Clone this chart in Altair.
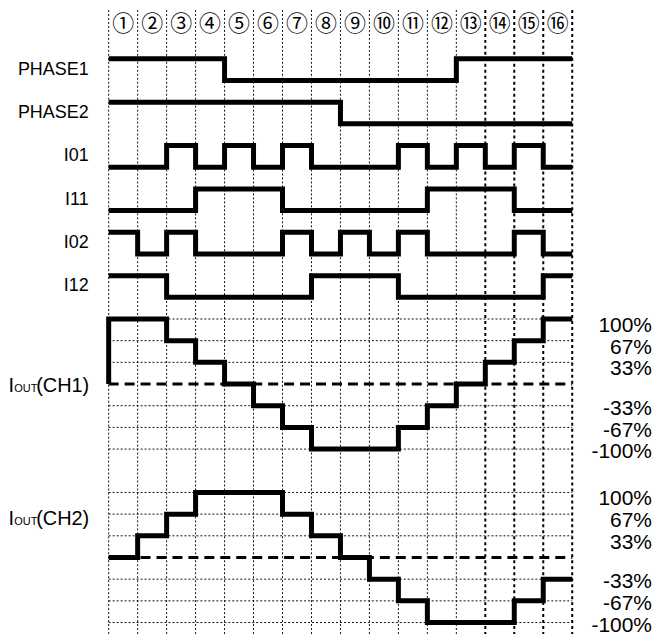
import altair as alt
import pandas as pd

# ---------------- data ----------------
columns = list(range(1, 17))
circled = ["①", "②", "③", "④", "⑤", "⑥", "⑦", "⑧", "⑨", "⑩", "⑪", "⑫", "⑬", "⑭", "⑮", "⑯"]

digital_names = ["PHASE1", "PHASE2", "I01", "I11", "I02", "I12"]
phase1 = [1, 1, 1, 1, 0, 0, 0, 0, 0, 0, 0, 0, 1, 1, 1, 1]
phase2 = [1, 1, 1, 1, 1, 1, 1, 1, 0, 0, 0, 0, 0, 0, 0, 0]
i01 = [0, 0, 1, 0, 1, 0, 1, 0, 0, 0, 1, 0, 1, 0, 1, 0]
i11 = [0, 0, 0, 1, 1, 1, 0, 0, 0, 0, 0, 1, 1, 1, 0, 0]
i02 = [1, 0, 1, 0, 0, 0, 1, 0, 1, 0, 1, 0, 0, 0, 1, 0]
i12 = [1, 1, 0, 0, 0, 0, 0, 1, 1, 1, 0, 0, 0, 0, 0, 1]
digital = [phase1, phase2, i01, i11, i02, i12]

ch1 = [100, 100, 67, 33, 0, -33, -67, -100, -100, -100, -67, -33, 0, 33, 67, 100]
ch2 = [0, 33, 67, 100, 100, 100, 67, 33, 0, -33, -67, -100, -100, -100, -67, -33]
levels = [100, 67, 33, 0, -33, -67, -100]
level_labels = ["100%", "67%", "33%", "", "-33%", "-67%", "-100%"]
iout_names = ["(CH1)", "(CH2)"]

# ---------------- layout helpers ----------------
W, H = 645, 626
X_DOM = [-3.406, 18.788]
Y_DOM = [-2.253, 26.53]
CH1_TOP = 12
CH2_TOP = 20
n = len(columns)

xs = alt.Scale(domain=X_DOM, nice=False, zero=False)
ys = alt.Scale(domain=Y_DOM, nice=False, zero=False, reverse=True)
X = lambda f: alt.X(f, type="quantitative", scale=xs, axis=None)
Y = lambda f: alt.Y(f, type="quantitative", scale=ys, axis=None)

# signal points
rows = []
for r, (name, sig) in enumerate(zip(digital_names, digital)):
    vals = list(sig) + [sig[-1]]
    for i, v in enumerate(vals):
        rows.append({"sig": name, "idx": i, "t": i, "u": 2 * r + (1 - v)})

def analog(name, series, top, start_zero):
    out = []
    k = 0
    if start_zero:
        out.append({"sig": name, "idx": k, "t": 0, "u": top + levels.index(0)})
        k += 1
    vals = list(series) + [series[-1]]
    for i, v in enumerate(vals):
        out.append({"sig": name, "idx": k, "t": i, "u": top + levels.index(v)})
        k += 1
    return out

rows += analog("CH1", ch1, CH1_TOP, True)
rows += analog("CH2", ch2, CH2_TOP, False)
df_sig = pd.DataFrame(rows)

# grid
df_vgrid = pd.DataFrame({"t": list(range(n + 1)), "y1": Y_DOM[0], "y2": Y_DOM[1]})
df_vgrid["thick"] = df_vgrid["t"] >= 13
hg = []
for top in (CH1_TOP, CH2_TOP):
    for j, lv in enumerate(levels):
        hg.append({"u": top + j, "zero": lv == 0, "x1": 0, "x2": n})
df_hgrid = pd.DataFrame(hg)

# texts
df_circ = pd.DataFrame({"t": [c - 0.5 for c in columns], "lab": circled, "u": -1.62})
df_left = pd.DataFrame({"lab": digital_names, "u": [2 * r + 0.5 for r in range(6)], "t": -0.69})
rl = []
for top in (CH1_TOP, CH2_TOP):
    for j, (lv, lab) in enumerate(zip(levels, level_labels)):
        if lab:
            rl.append({"lab": lab, "u": top + j + (0.32 if lv > 0 else 0.15), "t": 18.75})
df_right = pd.DataFrame(rl)
base_u = [15.36, 21.52]
df_iout = pd.DataFrame({"lab": iout_names, "u": base_u, "t": -0.67})
df_I = pd.DataFrame({"lab": ["I", "I"], "u": base_u, "t": -3.46})
df_sub = pd.DataFrame({"lab": ["OUT", "OUT"], "u": base_u, "t": -3.26})

FONT = "Liberation Sans"

vthin = alt.Chart(df_vgrid[~df_vgrid["thick"]]).mark_rule(
    color="#111", strokeWidth=1, strokeDash=[2, 2]
).encode(x=X("t"), y=Y("y1"), y2="y2")
vthick = alt.Chart(df_vgrid[df_vgrid["thick"]]).mark_rule(
    color="black", strokeWidth=2, strokeDash=[3, 3]
).encode(x=X("t"), y=Y("y1"), y2="y2")
hthin = alt.Chart(df_hgrid[~df_hgrid["zero"]]).mark_rule(
    color="#111", strokeWidth=1, strokeDash=[2, 2]
).encode(x=X("x1"), x2="x2", y=Y("u"))
hzero = alt.Chart(df_hgrid[df_hgrid["zero"]]).mark_rule(
    color="black", strokeWidth=3, strokeDash=[10, 6]
).encode(x=X("x1"), x2="x2", y=Y("u"))

lines = alt.Chart(df_sig).mark_line(
    interpolate="step-after", color="black", strokeWidth=5,
    strokeJoin="miter", strokeCap="butt"
).encode(x=X("t"), y=Y("u"), detail="sig:N", order="idx:Q")

circ = alt.Chart(df_circ).mark_text(
    font="Noto Sans CJK JP", fontSize=22, color="black", align="center", baseline="middle"
).encode(x=X("t"), y=Y("u"), text="lab:N")
left = alt.Chart(df_left).mark_text(
    font=FONT, fontSize=18, color="black", align="right", baseline="middle"
).encode(x=X("t"), y=Y("u"), text="lab:N")
right = alt.Chart(df_right).mark_text(
    font=FONT, fontSize=21, color="black", align="right", baseline="middle"
).encode(x=X("t"), y=Y("u"), text="lab:N")
iout = alt.Chart(df_iout).mark_text(
    font=FONT, fontSize=20, color="black", align="right", baseline="alphabetic"
).encode(x=X("t"), y=Y("u"), text="lab:N")
I_t = alt.Chart(df_I).mark_text(
    font=FONT, fontSize=20, color="black", align="left", baseline="alphabetic"
).encode(x=X("t"), y=Y("u"), text="lab:N")
sub = alt.Chart(df_sub).mark_text(
    font=FONT, fontSize=11, color="black", align="left", baseline="alphabetic"
).encode(x=X("t"), y=Y("u"), text="lab:N")

chart = alt.layer(
    vthin, vthick, hthin, hzero, lines, circ, left, right, iout, I_t, sub
).properties(width=W, height=H, padding=0, background="white").configure_view(stroke=None)

chart.save("out.html", embed_options={"renderer": "svg", "actions": False})
